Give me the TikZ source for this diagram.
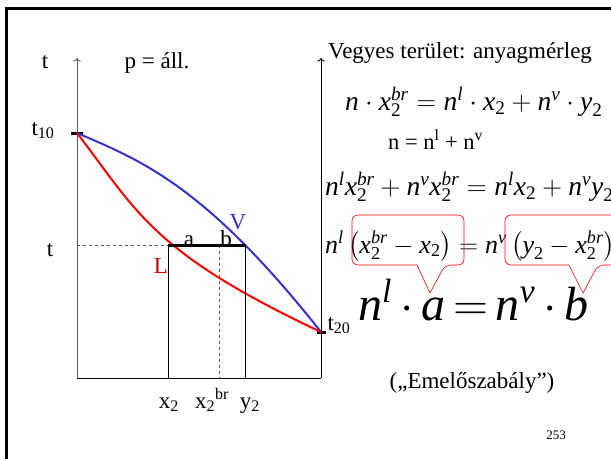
\documentclass[tikz,border=0pt]{standalone}
\usepackage{fix-cm}
\usepackage{amsmath}
\usepackage{fontspec}
\setmainfont{Liberation Serif}
\usetikzlibrary{arrows.meta}
\definecolor{vapblue}{RGB}{51,51,204}
\definecolor{liqred}{RGB}{204,0,0}
\newcommand*{\iv}[1]{\text{\itshape #1}}
\newcommand*{\dg}[1]{\text{\upshape #1}}

\begin{document}
\begin{tikzpicture}[x=1pt,y=-1pt,
    lbl/.style={font=\fontsize{23}{27}\selectfont, inner sep=0pt, anchor=base},
    eqn/.style={font=\fontsize{27.5}{32}\selectfont, inner sep=0pt, anchor=base west},
    callout/.style={red, line width=0.6pt}]
    \useasboundingbox (0,0) rectangle (611,459);
    % slide frame
    \draw[line width=3pt] (6,459) -- (6,8) -- (611,8);
    \clip (0,0) rectangle (611,459);

    % axes
    \coordinate (O) at (77,378);
    \coordinate (Otop) at (77,58);
    \coordinate (R) at (321,378);
    \coordinate (Rtop) at (321,58);
    \coordinate (t10) at (77,133);
    \coordinate (t20) at (321,332);
    \draw[gray!70!black, line width=0.9pt, ->] (O) -- (Otop);
    \draw[line width=0.9pt, ->] (R) -- (Rtop);
    \draw[line width=0.9pt] (O) -- (R);
    \draw[line width=3pt] (71,133) -- (83,133);
    \draw[line width=3pt] (317,332) -- (326,332);

    % boiling and dew curves
    \draw[vapblue, line width=2pt] (t10) .. controls (140,160) and (205,185) .. (t20);
    \draw[red, line width=2pt] (t10) .. controls (137,211) and (151,252) .. (t20);

    % tie line
    \coordinate (A) at (168,245);
    \coordinate (B) at (245,245);
    \coordinate (Z) at (219,245);
    \draw[gray!70!black, dashed, line width=0.6pt] (77,245) -- (A);
    \draw[gray!70!black, dashed, line width=0.6pt] (Z) -- (219,378);
    \draw[line width=0.9pt] (A) -- (168,378);
    \draw[line width=0.9pt] (B) -- (245,378);
    \draw[line width=3pt] (A) -- (B);

    % labels
    \node[lbl] (tax) at (45,68) {t};
    \node[lbl] (pconst) at (157,68) {p = áll.};
    \node[lbl] (t10lbl) at (43,135) {t\textsubscript{10}};
    \node[lbl] (tlbl) at (50,256) {t};
    \node[lbl, text=liqred] (Llbl) at (161,273) {L};
    \node[lbl, text=vapblue] (Vlbl) at (238,229) {V};
    \node[lbl] (albl) at (189,246) {a};
    \node[lbl] (blbl) at (226,246) {b};
    \node[lbl] (x2lbl) at (169,408) {x\textsubscript{2}};
    \node[lbl] (xbrlbl) at (212,408) {x\textsubscript{2}\textsuperscript{br}};
    \node[lbl] (y2lbl) at (250,408) {y\textsubscript{2}};
    \node[lbl] (t20lbl) at (339,330) {t\textsubscript{20}};

    % material balance
    \node[lbl, anchor=base west] (title) at (328,58) {Vegyes terület: anyagmérleg};
    \node[eqn] (eqa) at (345,110)
        {$\iv{n}\cdot\iv{x}_{\dg{2}}^{\iv{br}}=\iv{n}^{\iv{l}}\cdot\iv{x}_{\dg{2}}+\iv{n}^{\iv{v}}\cdot\iv{y}_{\dg{2}}$};
    \node[lbl, anchor=base west, font=\fontsize{22.5}{26}\selectfont] (eqb) at (388,149)
        {n = n\textsuperscript{l} + n\textsuperscript{v}};
    \node[eqn] (eqc) at (325,195)
        {$\iv{n}^{\iv{l}}\iv{x}_{\dg{2}}^{\iv{br}}+\iv{n}^{\iv{v}}\iv{x}_{\dg{2}}^{\iv{br}}=\iv{n}^{\iv{l}}\iv{x}_{\dg{2}}+\iv{n}^{\iv{v}}\iv{y}_{\dg{2}}$};
    \node[eqn, font=\fontsize{26}{30}\selectfont] (eqd) at (325,253)
        {$\iv{n}^{\iv{l}}\left(\iv{x}_{\dg{2}}^{\iv{br}}-\iv{x}_{\dg{2}}\right)=\iv{n}^{\iv{v}}\left(\iv{y}_{\dg{2}}-\iv{x}_{\dg{2}}^{\iv{br}}\right)$};
    \node[eqn, font=\fontsize{48}{54}\selectfont] (lever) at (358,320)
        {$\medmuskip=3mu\thickmuskip=3mu\iv{n}^{\iv{l}}\cdot\iv{a}=\iv{n}^{\iv{v}}\cdot\iv{b}$};
    \node[lbl] (rule) at (472,388) {(„Emelőszabály”)};
    \node[lbl, font=\fontsize{13}{15}\selectfont] (page) at (556,439) {253};

    % callouts
    \coordinate (tipa) at (430,293);
    \coordinate (tipb) at (583,293);
    \draw[callout, rounded corners=6pt] (417,265) -- (352,265) -- (352,215) -- (464,215) -- (464,265) -- (445,265)
        [sharp corners] -- (tipa) -- cycle;
    \draw[callout, rounded corners=6pt] (569,265) -- (505,265) -- (505,215) -- (660,215) -- (660,265) -- (598,265)
        [sharp corners] -- (tipb) -- cycle;
\end{tikzpicture}
\end{document}
